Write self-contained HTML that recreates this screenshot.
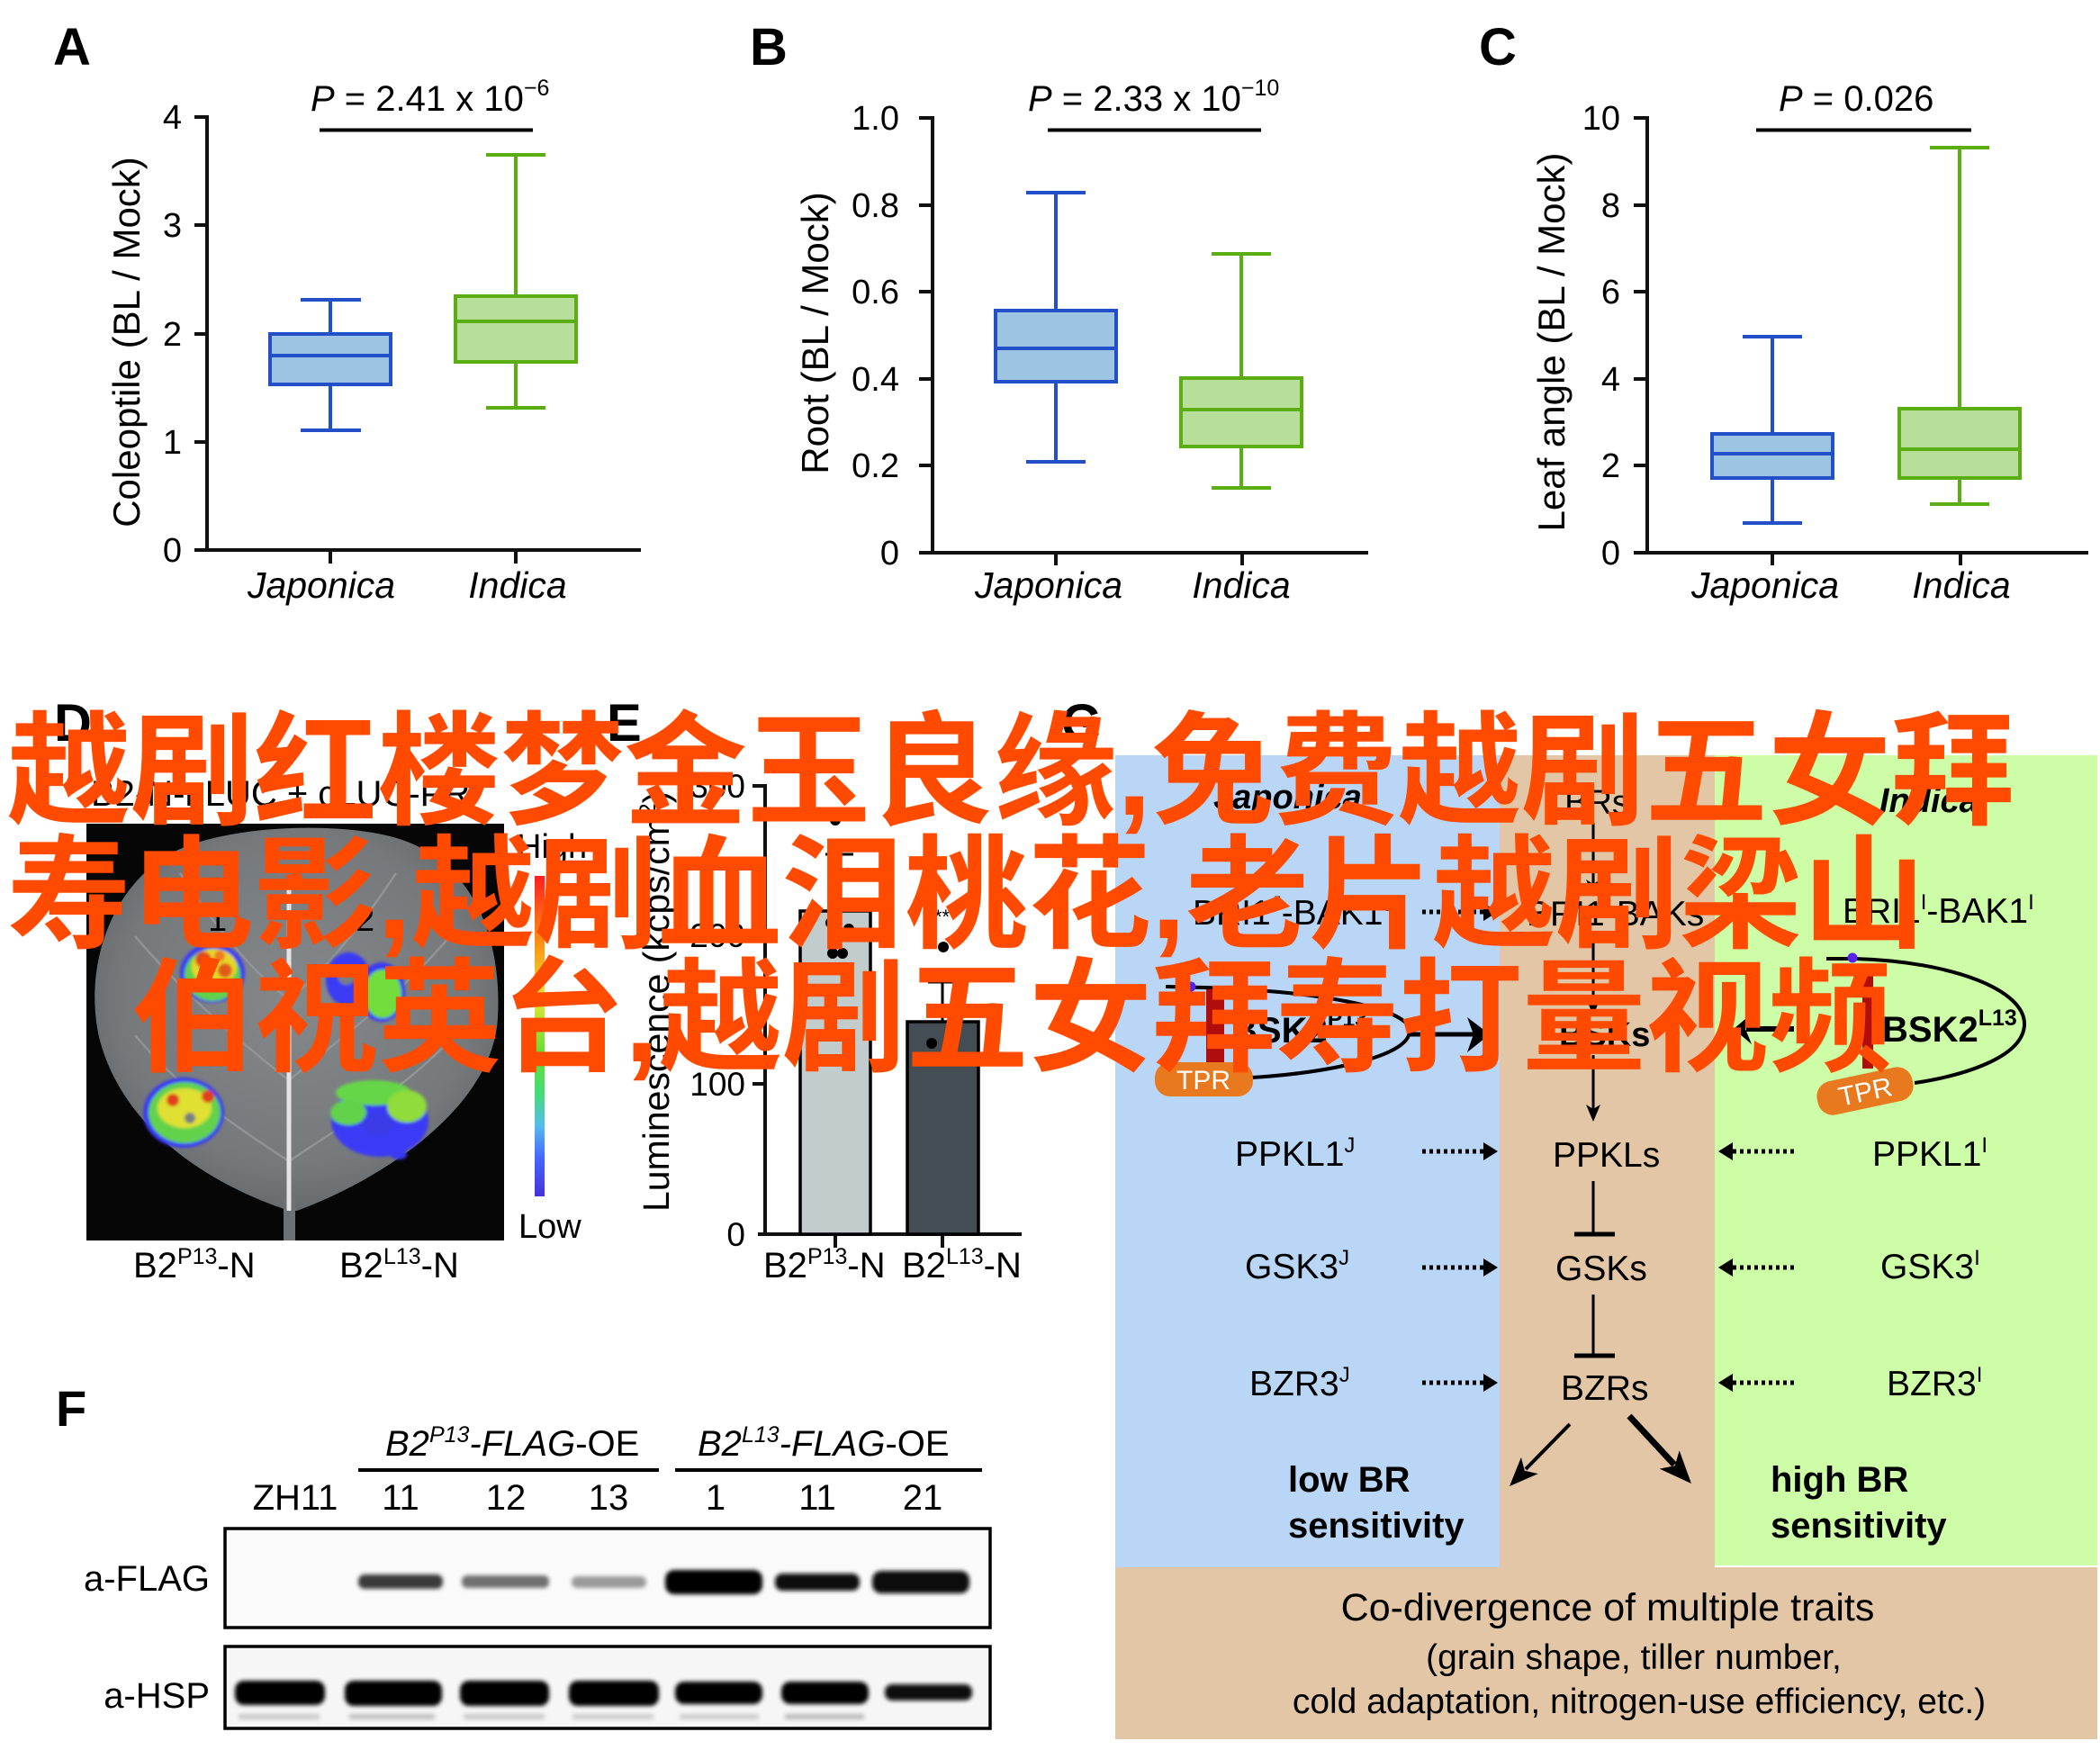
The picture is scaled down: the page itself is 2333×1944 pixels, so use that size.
<!DOCTYPE html>
<html><head><meta charset="utf-8"><title>Figure</title>
<style>
html,body{margin:0;padding:0;background:#fff;width:2333px;height:1944px;overflow:hidden}
svg{display:block}
</style></head><body>
<svg xmlns="http://www.w3.org/2000/svg" width="2333" height="1944" viewBox="0 0 2333 1944" font-family="'Liberation Sans', Arial, sans-serif" fill="#000">
<defs>
<linearGradient id="cbar" x1="0" y1="0" x2="0" y2="1">
<stop offset="0" stop-color="#ff2020"/><stop offset="0.2" stop-color="#ff8c10"/><stop offset="0.38" stop-color="#e8e832"/><stop offset="0.55" stop-color="#66dd33"/><stop offset="0.68" stop-color="#44dd77"/><stop offset="0.78" stop-color="#55bbee"/><stop offset="0.88" stop-color="#4466ff"/><stop offset="1" stop-color="#4433dd"/>
</linearGradient>
<radialGradient id="leafg" cx="0.5" cy="0.45" r="0.62"><stop offset="0" stop-color="#85888b"/><stop offset="0.7" stop-color="#76797c"/><stop offset="1" stop-color="#5f6265"/></radialGradient>
<filter id="bl" x="-20%" y="-80%" width="140%" height="260%"><feGaussianBlur stdDeviation="2.5"/></filter>
<filter id="bl2" x="-20%" y="-20%" width="140%" height="140%"><feGaussianBlur stdDeviation="1.5"/></filter>
</defs>
<rect width="2333" height="1944" fill="#fff"/>

<!-- ================= PANEL A ================= -->
<text x="59" y="72" font-size="58" font-weight="bold">A</text>
<text x="345" y="123" font-size="40"><tspan font-style="italic">P</tspan> = 2.41 x 10<tspan font-size="25" dy="-17">−6</tspan></text>
<line x1="355" y1="144.5" x2="592" y2="144.5" stroke="#000" stroke-width="4"/>
<path d="M230,128 V613 M216,611 H712 M216,130 H230 M216,250 H230 M216,371 H230 M216,491 H230 M367,611 V626 M573,611 V626" stroke="#111" stroke-width="4" fill="none"/>
<g font-size="38" text-anchor="end">
<text x="202" y="143">4</text><text x="202" y="263">3</text><text x="202" y="384">2</text><text x="202" y="504">1</text><text x="202" y="624">0</text>
</g>
<text transform="translate(155,380) rotate(-90)" text-anchor="middle" font-size="42">Coleoptile (BL / Mock)</text>
<g font-size="41" font-style="italic" text-anchor="middle"><text x="357" y="664">Japonica</text><text x="575" y="664">Indica</text></g>
<g stroke="#2350c8" stroke-width="4">
<line x1="367" y1="333" x2="367" y2="371"/><line x1="334" y1="333" x2="401" y2="333"/>
<line x1="367" y1="427" x2="367" y2="478"/><line x1="334" y1="478" x2="401" y2="478"/>
<rect x="300" y="371" width="134" height="56" fill="#9ec4e4"/>
<line x1="300" y1="395" x2="434" y2="395"/>
</g>
<g stroke="#5aae12" stroke-width="4">
<line x1="573" y1="172" x2="573" y2="329"/><line x1="540" y1="172" x2="606" y2="172"/>
<line x1="573" y1="402" x2="573" y2="453"/><line x1="540" y1="453" x2="606" y2="453"/>
<rect x="506" y="329" width="134" height="73" fill="#b8df99"/>
<line x1="506" y1="357" x2="640" y2="357"/>
</g>

<!-- ================= PANEL B ================= -->
<text x="833" y="72" font-size="58" font-weight="bold">B</text>
<text x="1142" y="123" font-size="40"><tspan font-style="italic">P</tspan> = 2.33 x 10<tspan font-size="25" dy="-17">−10</tspan></text>
<line x1="1164" y1="144.5" x2="1401" y2="144.5" stroke="#000" stroke-width="4"/>
<path d="M1036,129 V616 M1021,614 H1520 M1021,131 H1036 M1021,228 H1036 M1021,324 H1036 M1021,421 H1036 M1021,517 H1036 M1173,614 V628 M1380,614 V628" stroke="#111" stroke-width="4" fill="none"/>
<g font-size="38" text-anchor="end">
<text x="999" y="144">1.0</text><text x="999" y="241">0.8</text><text x="999" y="337">0.6</text><text x="999" y="434">0.4</text><text x="999" y="530">0.2</text><text x="999" y="627">0</text>
</g>
<text transform="translate(920,370) rotate(-90)" text-anchor="middle" font-size="42">Root (BL / Mock)</text>
<g font-size="41" font-style="italic" text-anchor="middle"><text x="1165" y="664">Japonica</text><text x="1379" y="664">Indica</text></g>
<g stroke="#2350c8" stroke-width="4">
<line x1="1173" y1="214" x2="1173" y2="345"/><line x1="1140" y1="214" x2="1206" y2="214"/>
<line x1="1173" y1="424" x2="1173" y2="513"/><line x1="1140" y1="513" x2="1206" y2="513"/>
<rect x="1106" y="345" width="134" height="79" fill="#9ec4e4"/>
<line x1="1106" y1="387" x2="1240" y2="387"/>
</g>
<g stroke="#5aae12" stroke-width="4">
<line x1="1379" y1="282" x2="1379" y2="420"/><line x1="1346" y1="282" x2="1412" y2="282"/>
<line x1="1379" y1="496" x2="1379" y2="542"/><line x1="1346" y1="542" x2="1412" y2="542"/>
<rect x="1312" y="420" width="134" height="76" fill="#b8df99"/>
<line x1="1312" y1="455" x2="1446" y2="455"/>
</g>

<!-- ================= PANEL C ================= -->
<text x="1643" y="72" font-size="58" font-weight="bold">C</text>
<text x="1976" y="123" font-size="40"><tspan font-style="italic">P</tspan> = 0.026</text>
<line x1="1951" y1="144.5" x2="2190" y2="144.5" stroke="#000" stroke-width="4"/>
<path d="M1830,129 V616 M1815,614 H2320 M1815,131 H1830 M1815,228 H1830 M1815,324 H1830 M1815,421 H1830 M1815,517 H1830 M1969,614 V628 M2178,614 V628" stroke="#111" stroke-width="4" fill="none"/>
<g font-size="38" text-anchor="end">
<text x="1800" y="144">10</text><text x="1800" y="241">8</text><text x="1800" y="337">6</text><text x="1800" y="434">4</text><text x="1800" y="530">2</text><text x="1800" y="627">0</text>
</g>
<text transform="translate(1738,380) rotate(-90)" text-anchor="middle" font-size="42">Leaf angle (BL / Mock)</text>
<g font-size="41" font-style="italic" text-anchor="middle"><text x="1961" y="664">Japonica</text><text x="2179" y="664">Indica</text></g>
<g stroke="#2350c8" stroke-width="4">
<line x1="1969" y1="374" x2="1969" y2="482"/><line x1="1936" y1="374" x2="2002" y2="374"/>
<line x1="1969" y1="531" x2="1969" y2="581"/><line x1="1936" y1="581" x2="2002" y2="581"/>
<rect x="1902" y="482" width="134" height="49" fill="#9ec4e4"/>
<line x1="1902" y1="504" x2="2036" y2="504"/>
</g>
<g stroke="#5aae12" stroke-width="4">
<line x1="2177" y1="164" x2="2177" y2="454"/><line x1="2144" y1="164" x2="2210" y2="164"/>
<line x1="2177" y1="531" x2="2177" y2="560"/><line x1="2144" y1="560" x2="2210" y2="560"/>
<rect x="2110" y="454" width="134" height="77" fill="#b8df99"/>
<line x1="2110" y1="499" x2="2244" y2="499"/>
</g>

<!-- ================= PANEL D ================= -->
<text x="60" y="823" font-size="58" font-weight="bold">D</text>
<text x="101" y="895" font-size="40">B2-N-nLUC + cLUC-PR</text>
<rect x="96" y="915" width="464" height="463" fill="#060606"/>
<path d="M322,1345 C250,1322 138,1264 110,1152 C92,1070 126,978 198,944 C262,915 384,913 444,932 C524,958 558,1040 553,1130 C548,1232 420,1312 330,1345 Z" fill="url(#leafg)"/>
<rect x="315" y="1330" width="13" height="48" fill="#6e7174"/>
<g stroke="#979a9c" stroke-width="2.5" fill="none" opacity="0.8">
<path d="M321,1290 C260,1250 200,1210 150,1150"/><path d="M321,1200 C270,1160 210,1110 150,1040"/><path d="M321,1110 C280,1080 240,1030 200,970"/>
<path d="M321,1290 C380,1250 450,1210 505,1150"/><path d="M321,1200 C370,1160 440,1110 500,1040"/><path d="M321,1110 C360,1080 400,1030 440,970"/>
</g>
<line x1="321" y1="985" x2="321" y2="1345" stroke="#e4e4e4" stroke-width="5"/>
<!-- luminescence spots -->
<g filter="url(#bl2)">
<ellipse cx="236" cy="1081" rx="36" ry="33" fill="#3b3bf5"/>
<ellipse cx="236" cy="1083" rx="31" ry="29" fill="#62d24c"/>
<ellipse cx="238" cy="1074" rx="25" ry="20" fill="#e5d828"/>
<circle cx="226" cy="1066" r="9" fill="#e24a1a"/><circle cx="250" cy="1078" r="8" fill="#e05a1a"/><circle cx="244" cy="1062" r="6" fill="#ee7a20"/>
<ellipse cx="387" cy="1088" rx="25" ry="30" fill="#3b3bf5"/>
<ellipse cx="424" cy="1102" rx="26" ry="33" fill="#3b3bf5"/>
<ellipse cx="425" cy="1104" rx="21" ry="27" fill="#72dd3c"/>
<ellipse cx="385" cy="1084" rx="10" ry="10" fill="#7a7d80"/>
<ellipse cx="204" cy="1236" rx="45" ry="39" fill="#3b3bf5"/>
<ellipse cx="205" cy="1236" rx="40" ry="34" fill="#62d24c"/>
<ellipse cx="205" cy="1231" rx="30" ry="22" fill="#dfe032"/>
<circle cx="192" cy="1222" r="7" fill="#e0401a"/><circle cx="231" cy="1218" r="7" fill="#e0401a"/>
<circle cx="211" cy="1242" r="6" fill="#7a7d80"/>
<ellipse cx="422" cy="1245" rx="54" ry="40" fill="#3b3bf5"/>
<ellipse cx="415" cy="1214" rx="42" ry="14" fill="#66d64a"/>
<ellipse cx="452" cy="1229" rx="22" ry="18" fill="#8fdc3a"/>
<ellipse cx="387" cy="1236" rx="20" ry="14" fill="#62d24c"/>
<ellipse cx="420" cy="1248" rx="18" ry="12" fill="#3a3ae8"/>
<ellipse cx="443" cy="1283" rx="9" ry="5" fill="#3b3bf5"/>
</g>
<text x="231" y="1034" font-size="38">1</text>
<text x="395" y="1034" font-size="38">2</text>
<rect x="594" y="973" width="11" height="356" fill="url(#cbar)"/>
<text x="574" y="953" font-size="38">High</text>
<text x="576" y="1375" font-size="38">Low</text>
<text x="148" y="1419" font-size="40">B2<tspan font-size="25" dy="-15">P13</tspan><tspan dy="15">-N</tspan></text>
<text x="377" y="1419" font-size="40">B2<tspan font-size="25" dy="-15">L13</tspan><tspan dy="15">-N</tspan></text>

<!-- ================= PANEL E ================= -->
<text x="674" y="823" font-size="58" font-weight="bold">E</text>
<text transform="translate(743,1346) rotate(-90)" font-size="41">Luminescence (kcps/cm<tspan font-size="25" dy="-15">2</tspan><tspan dy="15">)</tspan></text>
<path d="M850,871 V1373 M842,1371 H1135 M836,873 H850 M836,1038 H850 M836,1204 H850 M928,1371 V1386 M1047,1371 V1386" stroke="#111" stroke-width="4" fill="none"/>
<g font-size="37" text-anchor="end">
<text x="828" y="886">300</text><text x="828" y="1052">200</text><text x="828" y="1217">100</text><text x="828" y="1384">0</text>
</g>
<rect x="889" y="1012" width="78" height="359" fill="#c3cccd" stroke="#000" stroke-width="3.5"/>
<rect x="1008" y="1135" width="79" height="236" fill="#434d53" stroke="#000" stroke-width="3.5"/>
<g stroke="#000" stroke-width="3">
<line x1="932" y1="949" x2="932" y2="1012"/><line x1="917" y1="949" x2="948" y2="949"/>
<line x1="1047" y1="1091" x2="1047" y2="1135"/><line x1="1031" y1="1091" x2="1062" y2="1091"/>
</g>
<g fill="#000">
<circle cx="928" cy="911" r="6"/><circle cx="923" cy="1025" r="6"/><circle cx="943" cy="1032" r="6"/><circle cx="925" cy="1059" r="6"/><circle cx="936" cy="1059" r="6"/>
<circle cx="1048" cy="1052" r="6"/><circle cx="1035" cy="1159" r="6"/><circle cx="1058" cy="1163" r="6"/><circle cx="1047" cy="1178" r="6"/>
</g>
<text x="1038" y="1026" font-size="22">**</text>
<text x="848" y="1419" font-size="40">B2<tspan font-size="25" dy="-15">P13</tspan><tspan dy="15">-N</tspan></text>
<text x="1002" y="1419" font-size="40">B2<tspan font-size="25" dy="-15">L13</tspan><tspan dy="15">-N</tspan></text>

<!-- ================= PANEL G ================= -->
<text x="1179" y="823" font-size="58" font-weight="bold">G</text>
<rect x="1239" y="839" width="427" height="903" fill="#bad6f7"/>
<rect x="1666" y="839" width="239" height="903" fill="#e2c6a5"/>
<rect x="1905" y="839" width="425" height="900" fill="#cdfda6"/>
<rect x="1239" y="1741" width="1091" height="191" fill="#e2c6a5"/>

<text x="1348" y="898" font-size="38" font-weight="bold" font-style="italic">Japonica</text>
<text x="1774" y="904" font-size="38" text-anchor="middle">BRs</text>
<text x="2088" y="902" font-size="38" font-weight="bold" font-style="italic">Indica</text>

<g font-size="39">
<text x="1325" y="1027">BRI1<tspan font-size="24" dy="-15">J</tspan><tspan dy="15">-BAK1</tspan><tspan font-size="24" dy="-15">J</tspan></text>
<text x="1696" y="1028">BRI1-BAKs</text>
<text x="2047" y="1025">BRI1<tspan font-size="24" dy="-15">I</tspan><tspan dy="15">-BAK1</tspan><tspan font-size="24" dy="-15">I</tspan></text>
<text x="1372" y="1295">PPKL1<tspan font-size="24" dy="-15">J</tspan></text>
<text x="1725" y="1296">PPKLs</text>
<text x="2080" y="1295">PPKL1<tspan font-size="24" dy="-15">I</tspan></text>
<text x="1383" y="1420">GSK3<tspan font-size="24" dy="-15">J</tspan></text>
<text x="1728" y="1422">GSKs</text>
<text x="2089" y="1420">GSK3<tspan font-size="24" dy="-15">I</tspan></text>
<text x="1388" y="1550">BZR3<tspan font-size="24" dy="-15">J</tspan></text>
<text x="1734" y="1555">BZRs</text>
<text x="2096" y="1550">BZR3<tspan font-size="24" dy="-15">I</tspan></text>
</g>
<g font-size="40" font-weight="bold">
<text x="1368" y="1158">BSK2<tspan font-size="25" dy="-18">P13</tspan></text>
<text x="1732" y="1162" font-size="38">BSKs</text>
<text x="2091" y="1157">BSK2<tspan font-size="25" dy="-18">L13</tspan></text>
<text x="1431" y="1657">low BR</text>
<text x="1431" y="1708">sensitivity</text>
<text x="1967" y="1657">high BR</text>
<text x="1967" y="1708">sensitivity</text>
</g>
<text x="1786" y="1800" font-size="43" text-anchor="middle">Co-divergence of multiple traits</text>
<text x="1815" y="1854" font-size="39" text-anchor="middle">(grain shape, tiller number,</text>
<text x="1821" y="1903" font-size="39" text-anchor="middle">cold adaptation, nitrogen-use efficiency, etc.)</text>

<!-- dotted arrows -->
<g stroke="#000" stroke-width="5" stroke-dasharray="4 4" fill="none">
<line x1="1580" y1="1013" x2="1650" y2="1013"/><line x1="1580" y1="1279" x2="1650" y2="1279"/><line x1="1580" y1="1408" x2="1650" y2="1408"/><line x1="1580" y1="1536" x2="1650" y2="1536"/>
<line x1="1925" y1="1013" x2="1995" y2="1013"/><line x1="1925" y1="1279" x2="1995" y2="1279"/><line x1="1925" y1="1408" x2="1995" y2="1408"/><line x1="1925" y1="1536" x2="1995" y2="1536"/>
</g>
<g fill="#000">
<polygon points="1664,1013 1648,1003 1648,1023"/><polygon points="1664,1279 1648,1269 1648,1289"/><polygon points="1664,1408 1648,1398 1648,1418"/><polygon points="1664,1536 1648,1526 1648,1546"/>
<polygon points="1909,1013 1925,1003 1925,1023"/><polygon points="1909,1279 1925,1269 1925,1289"/><polygon points="1909,1408 1925,1398 1925,1418"/><polygon points="1909,1536 1925,1526 1925,1546"/>
</g>
<!-- center vertical pathway -->
<g stroke="#000" stroke-width="3" fill="none">
<line x1="1770" y1="914" x2="1770" y2="984"/>
<line x1="1770" y1="1040" x2="1770" y2="1116"/>
<line x1="1770" y1="1172" x2="1770" y2="1234"/>
<line x1="1770" y1="1312" x2="1770" y2="1371"/>
<line x1="1770" y1="1438" x2="1770" y2="1506"/>
</g>
<g fill="#000">
<polygon points="1770,996 1762,977 1770,982 1778,977"/>
<polygon points="1770,1128 1762,1109 1770,1114 1778,1109"/>
<polygon points="1770,1246 1762,1227 1770,1232 1778,1227"/>
</g>
<g stroke="#000" stroke-width="5">
<line x1="1749" y1="1371" x2="1794" y2="1371"/>
<line x1="1749" y1="1506" x2="1794" y2="1506"/>
</g>
<!-- BZR output arrows -->
<line x1="1744" y1="1582" x2="1695" y2="1632" stroke="#000" stroke-width="4"/>
<polygon points="1677,1651 1708.7,1637.1 1693.8,1633.7 1689.9,1618.9" fill="#000"/>
<line x1="1810" y1="1573" x2="1860" y2="1627" stroke="#000" stroke-width="7"/>
<polygon points="1879,1648 1843.7,1631.6 1860.7,1628.2 1865.7,1611.4" fill="#000"/>
<!-- BSK2 loops left -->
<path d="M1295,1096 L1338,1097 C1450,1100 1568,1118 1566,1146 C1564,1175 1470,1192 1391,1197" stroke="#000" stroke-width="4" fill="none"/>
<rect x="1340" y="1099" width="20" height="81" fill="#b00d0d"/>
<circle cx="1323" cy="1096" r="5.5" fill="#5522ee"/>
<rect x="1283" y="1180" width="109" height="38" rx="17" fill="#e8791e"/>
<text x="1337" y="1210" font-size="30" fill="#fff" text-anchor="middle">TPR</text>
<line x1="1566" y1="1149" x2="1640" y2="1149" stroke="#000" stroke-width="5"/>
<polygon points="1655,1149 1630,1130 1637,1149 1630,1169" fill="#000"/>
<!-- BSK2 loops right -->
<path d="M2029,1065 L2060,1065 C2170,1068 2250,1100 2249,1138 C2248,1175 2180,1195 2127,1203" stroke="#000" stroke-width="4" fill="none"/>
<rect x="2069" y="1080" width="12" height="107" fill="#b00d0d"/>
<circle cx="2058" cy="1064" r="5.5" fill="#5522ee"/>
<g transform="translate(2072,1212) rotate(-12)">
<rect x="-54" y="-19" width="108" height="38" rx="17" fill="#e8791e"/>
<text x="0" y="11" font-size="30" fill="#fff" text-anchor="middle">TPR</text>
</g>
<line x1="1993" y1="1143" x2="1940" y2="1143" stroke="#000" stroke-width="6"/>
<polygon points="1926,1143 1946,1126 1939,1143 1946,1160" fill="#000"/>

<!-- ================= PANEL F ================= -->
<text x="62" y="1584" font-size="56" font-weight="bold">F</text>
<text x="428" y="1617" font-size="40"><tspan font-style="italic">B2</tspan><tspan font-style="italic" font-size="25" dy="-15">P13</tspan><tspan font-style="italic" dy="15">-FLAG</tspan>-OE</text>
<text x="775" y="1617" font-size="40"><tspan font-style="italic">B2</tspan><tspan font-style="italic" font-size="25" dy="-15">L13</tspan><tspan font-style="italic" dy="15">-FLAG</tspan>-OE</text>
<g stroke="#000" stroke-width="4"><line x1="398" y1="1633" x2="732" y2="1633"/><line x1="750" y1="1633" x2="1091" y2="1633"/></g>
<g font-size="40" text-anchor="middle">
<text x="328" y="1677">ZH11</text><text x="445" y="1677">11</text><text x="562" y="1677">12</text><text x="676" y="1677">13</text><text x="795" y="1677">1</text><text x="908" y="1677">11</text><text x="1025" y="1677">21</text>
</g>
<text x="233" y="1767" font-size="40" text-anchor="end">a-FLAG</text>
<text x="233" y="1897" font-size="40" text-anchor="end">a-HSP</text>
<rect x="250" y="1698" width="850" height="110" fill="#fafafa" stroke="#000" stroke-width="3.5"/>
<rect x="250" y="1829" width="850" height="91" fill="#f6f6f6" stroke="#000" stroke-width="3.5"/>
<g filter="url(#bl)">
<rect x="398" y="1749" width="94" height="16" rx="7" fill="#3a3a3a"/>
<rect x="513" y="1750" width="97" height="14" rx="6" fill="#707070"/>
<rect x="635" y="1751" width="83" height="13" rx="6" fill="#9a9a9a"/>
<rect x="739" y="1744" width="108" height="27" rx="10" fill="#050505"/>
<rect x="861" y="1748" width="94" height="19" rx="8" fill="#0d0d0d"/>
<rect x="969" y="1745" width="108" height="25" rx="10" fill="#080808"/>
<rect x="261" y="1867" width="100" height="27" rx="10" fill="#060606"/>
<rect x="383" y="1867" width="108" height="28" rx="10" fill="#060606"/>
<rect x="511" y="1867" width="99" height="28" rx="10" fill="#060606"/>
<rect x="632" y="1867" width="100" height="28" rx="10" fill="#060606"/>
<rect x="750" y="1868" width="97" height="25" rx="10" fill="#060606"/>
<rect x="868" y="1868" width="97" height="25" rx="10" fill="#060606"/>
<rect x="983" y="1871" width="97" height="18" rx="8" fill="#0a0a0a"/>
<rect x="265" y="1904" width="90" height="6" fill="#c8c8c8"/>
<rect x="388" y="1904" width="95" height="6" fill="#c0c0c0"/>
<rect x="515" y="1904" width="90" height="6" fill="#c8c8c8"/>
<rect x="636" y="1904" width="90" height="6" fill="#cccccc"/>
<rect x="755" y="1904" width="88" height="6" fill="#cccccc"/>
<rect x="872" y="1904" width="88" height="6" fill="#bbbbbb"/>
</g>

<!-- ================= OVERLAY TEXT ================= -->
<g font-size="137" font-weight="bold" fill="#ff4a00" style="font-family:'Liberation Sans','Noto Sans CJK SC','WenQuanYi Zen Hei',sans-serif">
<text x="8" y="905">越剧红楼梦金玉良缘,免费越剧五女拜</text>
<text x="8" y="1042">寿电影,越剧血泪桃花,老片越剧梁山</text>
<text x="146" y="1179">伯祝英台,越剧五女拜寿打量视频</text>
</g>
</svg>
</body></html>
